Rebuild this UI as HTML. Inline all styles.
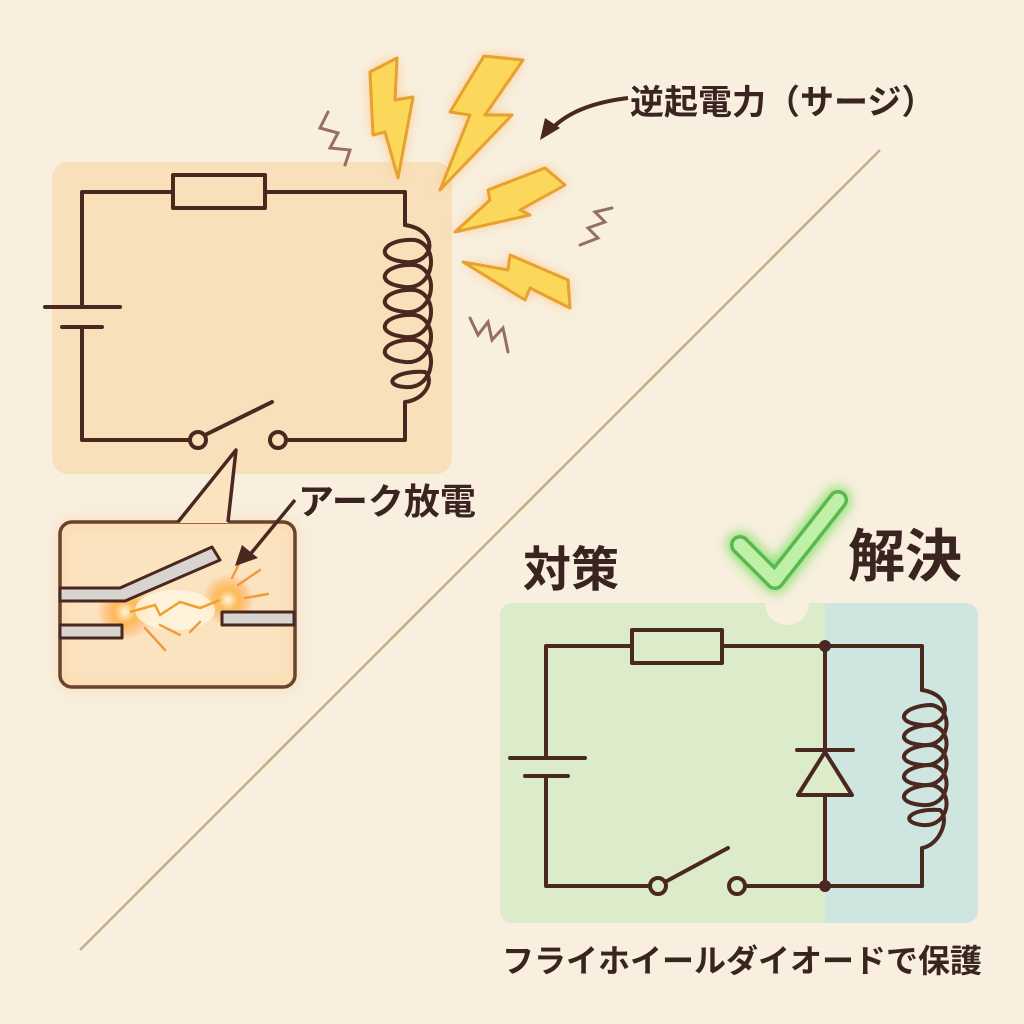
<!DOCTYPE html>
<html><head><meta charset="utf-8"><style>
html,body{margin:0;padding:0;width:1024px;height:1024px;overflow:hidden;background:#f8efdf}
text{font-family:"Liberation Sans","Noto Sans CJK JP",sans-serif;font-weight:bold;fill:#3a2420}
</style></head><body>
<svg width="1024" height="1024" viewBox="0 0 1024 1024" xmlns="http://www.w3.org/2000/svg">
<defs>
<filter id="glow" x="-50%" y="-50%" width="200%" height="200%"><feGaussianBlur stdDeviation="6"/></filter>
<radialGradient id="spark"><stop offset="0" stop-color="#fff8e0"/><stop offset="0.4" stop-color="#ffb040" stop-opacity="0.8"/><stop offset="1" stop-color="#ff9030" stop-opacity="0"/></radialGradient>
</defs>
<rect width="1024" height="1024" fill="#f8efdf"/>
<line x1="880" y1="150" x2="80" y2="950" stroke="#c9ab88" stroke-width="2.5"/>

<rect x="52" y="162" width="400" height="312" rx="16" fill="#f8e0bb"/>
<g fill="none" stroke="#4a2820" stroke-width="4" stroke-linecap="round" stroke-linejoin="round">
<path d="M82 307 V192 H173 M265 192 H405 V225"/>
<rect x="173" y="175" width="92" height="33" fill="#f8e0bb"/>
<path d="M405 225 C440 230,435 265,405 262 C370 258,385 238,415 240 C440 245,435 290,405 287 C370 283,385 263,415 265 C440 270,435 315,405 312 C370 308,385 288,415 290 C440 295,435 340,405 337 C370 333,385 313,415 315 C440 320,435 365,405 362 C370 358,385 338,415 340 C440 345,435 390,405 387 C380 385,395 370,425 372 C435 380,425 400,405 402 V440 H286"/>
<path d="M45 307 H120 M62 327 H102 M82 327 V440 H190"/>
<circle cx="198" cy="440" r="8" fill="#f8e0bb"/>
<circle cx="278" cy="440" r="8" fill="#f8e0bb"/>
<path d="M205 435 L272 402"/>
</g>

<g filter="url(#glow)" fill="#ffb050" opacity="0.7">
<polygon points="370,72 397,58 395,100 413,97 398,178 385,132 373,135"/>
<polygon points="484,56 523,60 485,115 512,115 440,190 470,115 450,112"/>
<polygon points="545,168 565,185 520,210 530,215 455,232 490,200 488,190"/>
<polygon points="463,262 508,270 510,255 568,280 570,308 530,288 525,300"/>
</g>
<g fill="#fbd85a" stroke="#e8a030" stroke-width="3" stroke-linejoin="round">
<polygon points="370,72 397,58 395,100 413,97 398,178 385,132 373,135"/>
<polygon points="484,56 523,60 485,115 512,115 440,190 470,115 450,112"/>
<polygon points="545,168 565,185 520,210 530,215 455,232 490,200 488,190"/>
<polygon points="463,262 508,270 510,255 568,280 570,308 530,288 525,300"/>
</g>
<g fill="none" stroke="#7a5040" stroke-width="3" stroke-linecap="round" opacity="0.8">
<path d="M328 112 L320 128 L338 133 L330 148 L350 150 L345 165"/>
<path d="M580 245 L598 238 L588 228 L605 222 L595 212 L612 208"/>
<path d="M470 318 L478 335 L488 322 L492 340 L503 328 L508 352"/>
</g>
<path d="M628 98 C595 102,565 112,548 133" fill="none" stroke="#4a2820" stroke-width="4"/>
<polygon points="540,140 545,118 560,128" fill="#4a2820"/>
<text x="630" y="114" font-size="34">逆起電力（サージ）</text>

<rect x="60" y="522" width="235" height="165" rx="12" fill="#fbe3c0" stroke="#4a2820" stroke-width="3.5"/>
<rect x="60" y="522" width="235" height="165" rx="12" fill="none" stroke="#ffc080" stroke-width="8" opacity="0.35" filter="url(#glow)"/>
<polygon points="178,523 236,450 228,523" fill="#fbe3c0"/>
<path d="M178 522 L236 450 L228 522" fill="none" stroke="#4a2820" stroke-width="3.5" stroke-linejoin="round"/>
<circle cx="125" cy="612" r="28" fill="url(#spark)"/>
<circle cx="228" cy="600" r="26" fill="url(#spark)"/>
<ellipse cx="175" cy="610" rx="40" ry="20" fill="#fff6e0" opacity="0.8"/>
<g fill="#d8d4cf" stroke="#4a2820" stroke-width="3" stroke-linejoin="round">
<polygon points="60,588 120,588 212,547 220,560 125,601 60,601"/>
<rect x="60" y="625" width="62" height="13"/>
<rect x="222" y="612" width="72" height="13"/>
</g>
<path d="M130 612 L155 605 L160 615 L180 602 L200 608 L220 600" fill="none" stroke="#f0a030" stroke-width="2.5"/>
<g stroke="#f29a40" stroke-width="2.5" stroke-linecap="round">
<line x1="145" y1="628" x2="165" y2="650"/><line x1="160" y1="625" x2="180" y2="635"/>
<line x1="238" y1="585" x2="260" y2="570"/><line x1="245" y1="598" x2="268" y2="594"/>
<line x1="232" y1="578" x2="240" y2="562"/><line x1="200" y1="622" x2="190" y2="632"/>
</g>
<path d="M295 500 L248 557" stroke="#4a2820" stroke-width="3.5"/>
<polygon points="235,566 242,545 258,558" fill="#4a2820"/>
<text x="298" y="514" font-size="36">アーク放電</text>

<path d="M512 603 H765 A22 22 0 0 0 809 603 H825 V923 H512 A12 12 0 0 1 500 911 V615 A12 12 0 0 1 512 603 Z" fill="#dcebc9"/>
<path d="M809 603 H966 A12 12 0 0 1 978 615 V911 A12 12 0 0 1 966 923 H825 V603 Z" fill="#cfe6e0"/>
<g fill="none" stroke="#4a2820" stroke-width="4" stroke-linecap="round" stroke-linejoin="round">
<path d="M546 758 V646 H632 M722 646 H922 V690"/>
<rect x="632" y="630" width="90" height="33" fill="#dcebc9"/>
<path d="M922 690 C955 695,950 728,922 725 C890 722,905 705,932 705 C955 710,950 748,922 745 C890 742,905 725,932 725 C955 730,950 768,922 765 C890 762,905 745,932 745 C955 750,950 788,922 785 C890 782,905 765,932 765 C955 770,950 808,922 805 C890 802,905 785,932 785 C955 790,950 828,922 825 C898 822,910 808,940 810 C950 818,940 845,922 848 V886 H745"/>
<path d="M510 758 H585 M525 776 H568 M546 776 V886 H650"/>
<circle cx="658" cy="886" r="8" fill="#dcebc9"/>
<circle cx="737" cy="886" r="8" fill="#dcebc9"/>
<path d="M665 882 L728 848"/>
<path d="M825 646 V886 H922"/>
<line x1="797" y1="750" x2="853" y2="750"/>
<polygon points="825,752 798,795 852,795" fill="#dcebc9"/>
</g>
<circle cx="825" cy="646" r="6" fill="#4a2820"/>
<circle cx="825" cy="886" r="6" fill="#4a2820"/>

<path d="M740 545 L775 580 L838 500" fill="none" stroke="#8ee070" stroke-width="26" stroke-linecap="round" stroke-linejoin="round" filter="url(#glow)"/>
<path d="M740 545 L775 580 L838 500" fill="none" stroke="#5ab850" stroke-width="20" stroke-linecap="round" stroke-linejoin="round"/>
<path d="M740 545 L775 580 L838 500" fill="none" stroke="#bff0a8" stroke-width="13" stroke-linecap="round" stroke-linejoin="round"/>
<text x="523" y="586" font-size="48">対策</text>
<text x="848" y="576" font-size="57">解決</text>
<text x="742" y="972" font-size="32" text-anchor="middle">フライホイールダイオードで保護</text>
</svg>
</body></html>
